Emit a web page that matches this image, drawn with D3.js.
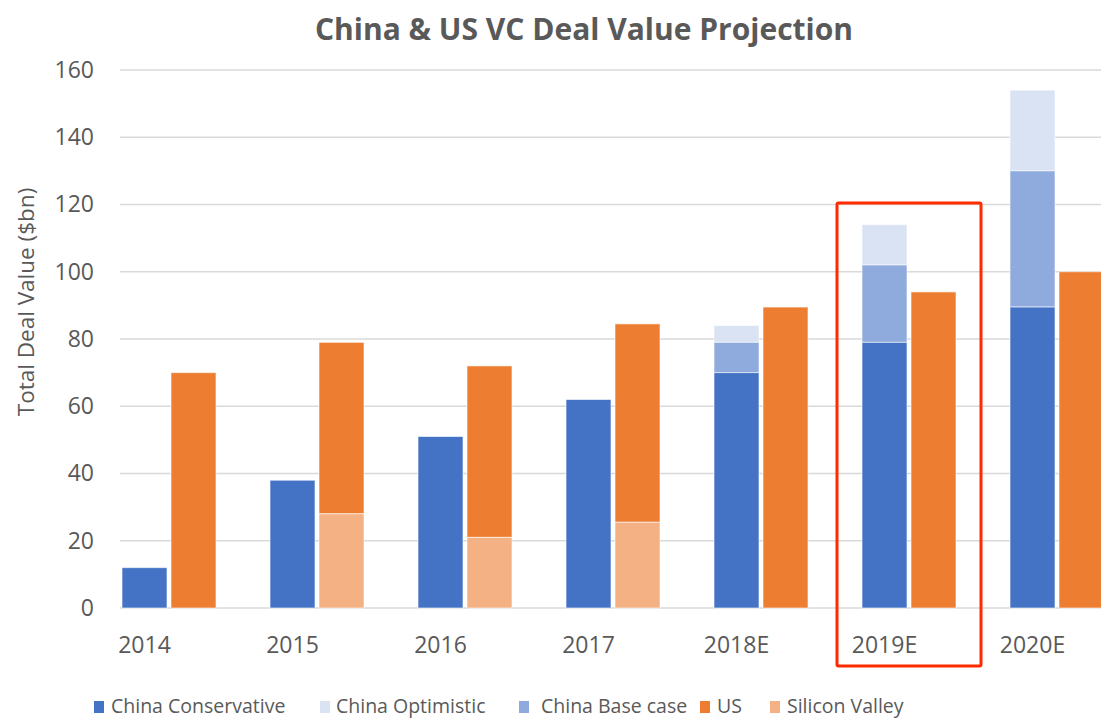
<!DOCTYPE html>
<html><head><meta charset="utf-8">
<script src="https://cdn.jsdelivr.net/npm/d3@7"></script>
<style>body{margin:0;background:#fff;}svg{display:block;font-family:"Open Sans","Noto Sans",sans-serif;}</style>
</head><body>
<svg id="c" width="1101" height="719"></svg>
<script>
const categories = ["2014","2015","2016","2017","2018E","2019E","2020E"];
const chinaConservative = [12, 38, 51, 62, 70, 79, 89.5];
const chinaBaseTotal = [null, null, null, null, 79, 102, 130];
const chinaOptimisticTotal = [null, null, null, null, 84, 114, 154];
const usValues = [70, 79, 72, 84.5, 89.5, 94, 100];
const siliconValley = [null, 28, 21, 25.5, null, null, null];
const yTicks = [0,20,40,60,80,100,120,140,160];
const legendItems = ["China Conservative","China Optimistic","China Base case","US","Silicon Valley"];
const colors = {cons:"#4472C4", opt:"#DAE3F3", base:"#8FAADC", us:"#ED7D31", sv:"#F4B183"};

const svg = d3.select("#c");
const y = d3.scaleLinear().domain([0,160]).range([608,70]);
const x0 = d3.scaleBand().domain(categories).range([94.75, 94.75 + 7*148]);
const x1 = d3.scaleBand().domain(["china","us"]).range([27.25, 121.25]).paddingInner(4/49);

// title
svg.append("text").attr("x",584).attr("y",40).attr("text-anchor","middle")
  .attr("font-size",30).attr("font-weight","bold").attr("fill","#595959")
  .text("China & US VC Deal Value Projection");

// gridlines
svg.append("g").selectAll("line").data(yTicks).join("line")
  .attr("x1",120).attr("x2",1101).attr("y1",d=>y(d)).attr("y2",d=>y(d))
  .attr("stroke","#d9d9d9").attr("stroke-width",1.5);

// y axis labels
const yAxis = d3.axisLeft(y).tickValues(yTicks).tickSize(0).tickPadding(0);
const ga = svg.append("g").attr("transform","translate(94,0)").call(yAxis);
ga.select(".domain").remove();
ga.selectAll("text").attr("font-size",23).attr("fill","#595959").attr("font-family","'Open Sans','Noto Sans',sans-serif");

svg.append("text").attr("transform","translate(34,302) rotate(-90)").attr("text-anchor","middle")
  .attr("font-size",22.5).attr("fill","#595959").text("Total Deal Value ($bn)");

const bw = x1.bandwidth();
function bar(cx, v0, v1, fill){
  if (v1 == null) return;
  svg.append("rect").attr("x",cx).attr("width",bw)
    .attr("y",y(v1)).attr("height",y(v0)-y(v1))
    .attr("fill",fill).attr("stroke","#ffffff").attr("stroke-opacity",0.6).attr("stroke-width",1);
}
categories.forEach((c,i)=>{
  const cx = x0(c)+x1("china"), ux = x0(c)+x1("us");
  bar(cx, chinaBaseTotal[i] ?? 0, chinaOptimisticTotal[i], colors.opt);
  bar(cx, chinaConservative[i], chinaBaseTotal[i], colors.base);
  bar(cx, 0, chinaConservative[i], colors.cons);
  bar(ux, siliconValley[i] ?? 0, usValues[i], colors.us);
  bar(ux, 0, siliconValley[i], colors.sv);
  svg.append("text").attr("x",cx+bw/2).attr("y",653).attr("text-anchor","middle")
    .attr("font-size",23).attr("fill","#595959").text(c);
});

// highlight box around 2019E
const hx = x0("2019E");
svg.append("rect").attr("x",hx+x1("china")-25).attr("y",y(120)-1.5)
  .attr("width",(x1("us")+bw+25)-(x1("china")-25)).attr("height",666-(y(120)-1.5))
  .attr("fill","none").attr("stroke","#FF2A00").attr("stroke-width",3).attr("rx",1.5);

// legend
const legendX = [94, 320, 519, 700, 770];
const legendTextX = [111, 336, 541, 717, 787];
const legendColors = [colors.cons, colors.opt, colors.base, colors.us, colors.sv];
legendItems.forEach((t,i)=>{
  svg.append("rect").attr("x",legendX[i]).attr("y",701).attr("width",10).attr("height",12).attr("fill",legendColors[i]);
  svg.append("text").attr("x",legendTextX[i]).attr("y",713).attr("font-size",19.5).attr("fill","#595959").text(t);
});
</script>
</body></html>
